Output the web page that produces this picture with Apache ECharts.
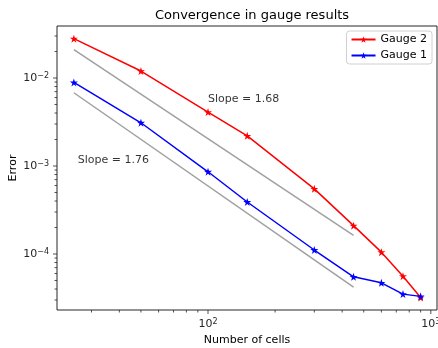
<!DOCTYPE html>
<html><head><meta charset="utf-8">
<script src="https://cdn.jsdelivr.net/npm/echarts@6/dist/echarts.min.js"></script>
<style>html,body{margin:0;padding:0;background:#fff}#c{width:438px;height:348px}</style>
</head><body><div id="c"></div>
<script>
const cells = [25, 50, 100, 150, 300, 450, 600, 750, 900];
const gauge2 = [0.028, 0.012, 0.0041, 0.0022, 5.5e-4, 2.1e-4, 1.05e-4, 5.6e-5, 3.2e-5];
const gauge1 = [0.0089, 0.0031, 8.6e-4, 3.9e-4, 1.11e-4, 5.5e-5, 4.7e-5, 3.5e-5, 3.3e-5];
const refX = [25, 450];
const ref168 = [0.021, 1.63e-4];
const ref176 = [0.0068, 4.2e-5];
const notes = [{x: 100, y: 0.005, text: 'Slope = 1.68'}, {x: 26, y: 0.001, text: 'Slope = 1.76'}];
const xMajor = [100, 1000];
const xMinor = [30, 40, 50, 60, 70, 80, 90, 200, 300, 400, 500, 600, 700, 800, 900];
const yMajor = [1e-4, 1e-3, 1e-2];
const yMinor = [3e-5, 4e-5, 5e-5, 6e-5, 7e-5, 8e-5, 9e-5, 2e-4, 3e-4, 4e-4, 5e-4, 6e-4, 7e-4, 8e-4, 9e-4,
  2e-3, 3e-3, 4e-3, 5e-3, 6e-3, 7e-3, 8e-3, 9e-3, 2e-2, 3e-2];
const X_MIN = 21.0, X_MAX = 1066, Y_MIN = 2.31e-5, Y_MAX = 0.039;

const FONT = 'DejaVu Sans';
const star = 'path://M50,0 L61.8,35.1 L97.6,34.5 L68.1,55.9 L79.4,90.5 L50,69 L20.6,90.5 L31.9,55.9 L2.4,34.5 L38.2,35.1 Z';
const sup = {fontFamily: FONT, fontSize: 8, color: '#262626', verticalAlign: 'bottom', padding: [0, 0, 5, 0]};
const base = {fontFamily: FONT, fontSize: 11, color: '#262626'};

function pow10Label(v) {
  const e = Math.round(Math.log10(v));
  if (Math.abs(Math.log10(v) - e) > 1e-6) return '';
  const es = e < 0 ? '\u2212' + (-e) : '' + e;
  return '{b|10}{s|' + es + '}';
}

function tickSeries(vals, isX, len) {
  return {
    type: 'custom', silent: true, clip: false, z: 5,
    data: vals.map(v => isX ? [v, Y_MIN] : [X_MIN, v]),
    renderItem: function (params, api) {
      const p = api.coord([api.value(0), api.value(1)]);
      const shape = isX ? {x1: p[0], y1: p[1], x2: p[0], y2: p[1] + len}
                        : {x1: p[0], y1: p[1], x2: p[0] - len, y2: p[1]};
      return {type: 'line', shape: shape, style: {stroke: '#262626', lineWidth: 0.8}};
    }
  };
}

const chart = echarts.init(document.getElementById('c'), null, {renderer: 'canvas'});
chart.setOption({
  animation: false,
  backgroundColor: '#fff',
  title: {text: 'Convergence in gauge results', left: 247, top: 4, textAlign: 'center',
    textStyle: {fontFamily: FONT, fontSize: 13, fontWeight: 'normal', color: '#000'}},
  grid: {left: 57, right: 1, top: 26, bottom: 38, outerBoundsMode: 'none', containLabel: false,
    show: true, borderColor: '#262626', borderWidth: 1, backgroundColor: 'transparent'},
  legend: {
    data: ['Gauge 2', 'Gauge 1'], orient: 'vertical', right: 6, top: 31,
    backgroundColor: 'rgba(255,255,255,0.8)', borderColor: '#d0d0d0', borderWidth: 1, borderRadius: 3,
    padding: [3, 5, 3, 4], itemGap: 5, itemWidth: 24, itemHeight: 8,
    textStyle: {fontFamily: FONT, fontSize: 11, color: '#000'}
  },
  xAxis: {
    type: 'log', logBase: 10, min: X_MIN, max: X_MAX,
    name: 'Number of cells', nameLocation: 'middle', nameGap: 25,
    nameTextStyle: {fontFamily: FONT, fontSize: 11, color: '#000'},
    axisLine: {show: false}, axisTick: {show: false}, splitLine: {show: false}, minorTick: {show: false},
    axisLabel: {showMinLabel: false, showMaxLabel: false, margin: 8, formatter: pow10Label, rich: {b: base, s: sup}}
  },
  yAxis: {
    type: 'log', logBase: 10, min: Y_MIN, max: Y_MAX,
    name: 'Error', nameLocation: 'middle', nameGap: 38, nameRotate: 90, nameMoveOverlap: false,
    nameTextStyle: {fontFamily: FONT, fontSize: 11, color: '#000'},
    axisLine: {show: false}, axisTick: {show: false}, splitLine: {show: false}, minorTick: {show: false},
    axisLabel: {showMinLabel: false, showMaxLabel: false, margin: 8, formatter: pow10Label, rich: {b: base, s: sup}}
  },
  series: [
    {name: 'Gauge 2', type: 'line', data: cells.map((x, i) => [x, gauge2[i]]),
      symbol: star, symbolSize: 8, showAllSymbol: true, color: '#ff0000',
      lineStyle: {width: 1.5, color: '#ff0000'}, itemStyle: {color: '#ff0000'}, z: 3},
    {name: 'Gauge 1', type: 'line', data: cells.map((x, i) => [x, gauge1[i]]),
      symbol: star, symbolSize: 8, showAllSymbol: true, color: '#0000ff',
      lineStyle: {width: 1.5, color: '#0000ff'}, itemStyle: {color: '#0000ff'}, z: 4},
    {name: 'ref1', type: 'line', data: refX.map((x, i) => [x, ref168[i]]), symbol: 'none',
      lineStyle: {width: 1.5, color: '#a0a0a0'}, z: 2, silent: true},
    {name: 'ref2', type: 'line', data: refX.map((x, i) => [x, ref176[i]]), symbol: 'none',
      lineStyle: {width: 1.5, color: '#a0a0a0'}, z: 2, silent: true},
    {name: 'notes', type: 'scatter', symbolSize: 0, silent: true, z: 6,
      data: notes.map(n => ({value: [n.x, n.y], label: {show: true, formatter: n.text}})),
      label: {position: [0, 0], align: 'left', verticalAlign: 'bottom', fontFamily: FONT, fontSize: 11, color: '#000'}},
    tickSeries(xMajor, true, 4),
    tickSeries(xMinor, true, 2.5),
    tickSeries(yMajor, false, 4),
    tickSeries(yMinor, false, 2.5)
  ]
});
</script></body></html>
